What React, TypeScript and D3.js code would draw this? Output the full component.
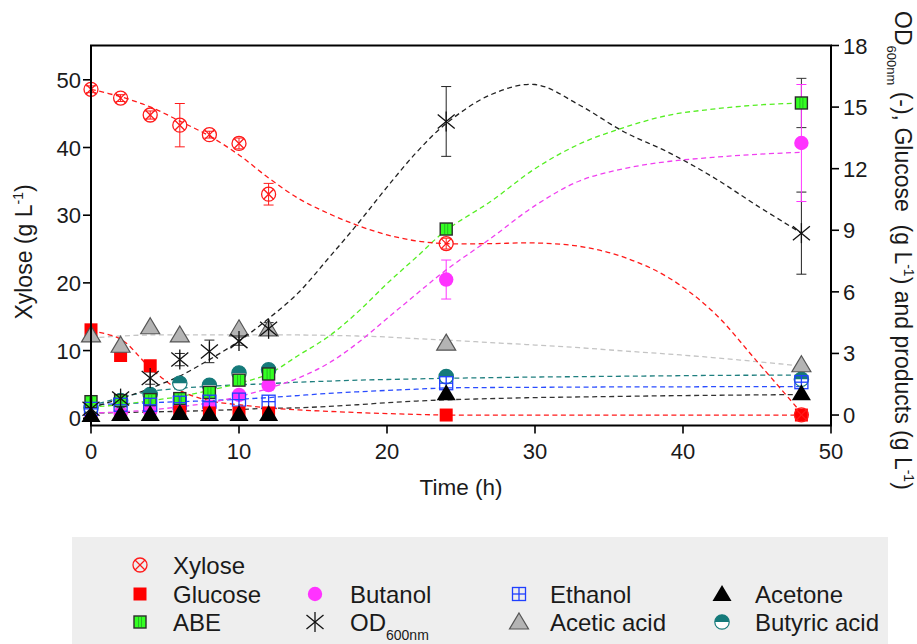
import React from 'react';
import * as d3 from 'd3';

const W = 917;
const H = 644;

// Sampling times (h)
const TIME = [0, 2, 4, 6, 8, 10, 12, 24, 48];

// Measured values (xylose on left axis, the rest on right axis)
const XYLOSE = [48.6, 47.3, 44.8, 43.3, 41.9, 40.6, 33.1, 25.8, 0.5];
const XYLOSE_ERR = [0.5, 0.5, 0.6, 3.2, 0.5, 0.8, 1.6, 0.8, 0.3];
const GLUCOSE = [4.15, 2.9, 2.4, 0.15, 0.1, 0.1, 0.1, 0.0, 0.0];
const ABE = [0.65, 0.7, 0.75, 0.8, 1.1, 1.7, 2.0, 9.06, 15.2];
const ABE_ERR = [0, 0, 0, 0, 0, 0, 0, 0.1, 1.2];
const BUTANOL = [0.05, 0.1, 0.2, 0.3, 0.4, 0.98, 1.46, 6.6, 13.25];
const BUTANOL_ERR = [0, 0, 0, 0, 0, 0, 0, 0.95, 2.85];
const OD600 = [0.3, 0.8, 1.8, 2.7, 3.1, 3.6, 4.2, 14.3, 8.86];
const OD600_ERR = [0.1, 0.2, 0.3, 0.3, 0.55, 0.2, 0.3, 1.7, 2.0];
const ACETIC = [3.9, 3.4, 4.3, 3.9, NaN, 4.2, 4.2, 3.5, 2.45];
const ACETONE = [0.0, 0.05, 0.05, 0.1, 0.05, 0.05, 0.05, 1.06, 1.06];
const ETHANOL = [0.3, 0.5, 0.5, 0.6, 0.65, 0.75, 0.65, 1.55, 1.6];
const BUTYRIC = [0.35, 0.7, 1.0, 1.55, 1.45, 2.05, 2.2, 1.87, 1.74];

// Fitted trend curves
const FIT_T = [0, 2, 4, 6, 8, 10, 12, 14, 16, 18, 20, 22, 24, 27, 30, 33, 36, 39, 42, 45, 48];
const XYLOSE_FIT = [48.6, 47.5, 46.0, 43.9, 41.7, 38.9, 35.5, 32.5, 30.3, 28.5, 27.1, 26.2, 25.8, 25.8, 25.9, 25.4, 23.8, 20.8, 15.8, 8.4, 0.8];
const GLUCOSE_FIT = [4.1, 3.7, 2.3, 1.2, 0.7, 0.5, 0.35, 0.25, 0.18, 0.12, 0.07, 0.03, 0.0, 0, 0, 0, 0, 0, 0, 0, 0];
const OD600_FIT = [0.35, 0.8, 1.3, 1.9, 2.7, 3.6, 4.7, 5.95, 7.6, 9.3, 11.1, 12.8, 14.2, 15.6, 16.1, 15.1, 13.8, 12.8, 11.6, 10.2, 8.86];
const ABE_FIT = [0.4, 0.5, 0.7, 0.9, 1.2, 1.55, 2.0, 2.9, 3.8, 5.0, 6.4, 7.7, 9.0, 10.4, 12.0, 13.2, 14.0, 14.6, 14.9, 15.1, 15.2];
const BUTANOL_FIT = [0.1, 0.15, 0.25, 0.4, 0.6, 0.9, 1.3, 1.8, 2.5, 3.5, 4.7, 5.9, 7.07, 8.6, 10.2, 11.4, 12.0, 12.35, 12.55, 12.7, 12.8];
const ACETIC_FIT = [3.75, 3.85, 3.9, 3.9, 3.9, 3.9, 3.9, 3.9, 3.88, 3.85, 3.8, 3.72, 3.65, 3.53, 3.41, 3.28, 3.12, 2.97, 2.8, 2.6, 2.39];
const BUTYRIC_FIT = [0.45, 0.85, 1.15, 1.3, 1.4, 1.47, 1.53, 1.6, 1.65, 1.7, 1.73, 1.76, 1.79, 1.82, 1.85, 1.87, 1.89, 1.91, 1.93, 1.94, 1.95];
const ETHANOL_FIT = [0.5, 0.55, 0.6, 0.65, 0.7, 0.77, 0.85, 0.95, 1.05, 1.13, 1.2, 1.26, 1.32, 1.34, 1.35, 1.36, 1.37, 1.37, 1.38, 1.38, 1.38];
const ACETONE_FIT = [0.1, 0.12, 0.15, 0.18, 0.22, 0.27, 0.33, 0.35, 0.42, 0.5, 0.6, 0.68, 0.74, 0.8, 0.85, 0.88, 0.91, 0.94, 0.96, 0.98, 1.0];

const X_TICKS = [0, 10, 20, 30, 40, 50];
const YL_TICKS = [0, 10, 20, 30, 40, 50];
const YR_TICKS = [0, 3, 6, 9, 12, 15, 18];

const FONT = "'Liberation Sans', Arial, Helvetica, sans-serif";

const x = d3.scaleLinear().domain([0, 50]).range([91, 831]);
const yL = d3.scaleLinear().domain([-1.07, 55.07]).range([425.5, 45.5]);
const yR = d3.scaleLinear().domain([-0.51, 18]).range([425.5, 45.5]);

type MType = 'xylose' | 'glucose' | 'abe' | 'butanol' | 'od' | 'acetic' | 'acetone' | 'ethanol' | 'butyric';

function Marker({ type, cx, cy }: { type: MType; cx: number; cy: number }) {
  const t = `translate(${cx},${cy})`;
  switch (type) {
    case 'xylose':
      return (
        <g transform={t} stroke="#ff1a1a" strokeWidth={1.3} fill="none">
          <circle r={7} />
          <line x1={-5} y1={-5} x2={5} y2={5} />
          <line x1={-5} y1={5} x2={5} y2={-5} />
        </g>
      );
    case 'glucose':
      return <rect transform={t} x={-6.5} y={-6.5} width={13} height={13} fill="#ff0000" />;
    case 'abe':
      return (
        <g transform={t}>
          <rect x={-6} y={-6} width={12} height={12} fill="#33ff22" stroke="#2b2b2b" strokeWidth={1.4} />
          <line x1={-1.5} y1={-5} x2={-1.5} y2={5} stroke="#22aa22" strokeWidth={0.8} />
          <line x1={1.5} y1={-5} x2={1.5} y2={5} stroke="#22aa22" strokeWidth={0.8} />
        </g>
      );
    case 'butanol':
      return <circle cx={cx} cy={cy} r={7.2} fill="#ff33ff" />;
    case 'od':
      return (
        <g transform={t} stroke="#111" strokeWidth={1.3}>
          <line x1={0} y1={-10} x2={0} y2={10} />
          <line x1={-8.5} y1={-7} x2={8.5} y2={7} />
          <line x1={-8.5} y1={7} x2={8.5} y2={-7} />
        </g>
      );
    case 'acetic':
      return <path transform={t} d="M0,-9 L9.5,7 L-9.5,7 Z" fill="#b4b4b4" stroke="#555" strokeWidth={1.2} />;
    case 'acetone':
      return <path transform={t} d="M0,-9 L9.5,7 L-9.5,7 Z" fill="#000" />;
    case 'ethanol':
      return (
        <g transform={t} stroke="#1f3fff" strokeWidth={1.3} fill="none">
          <rect x={-6.5} y={-6.5} width={13} height={13} />
          <line x1={0} y1={-6.5} x2={0} y2={6.5} />
          <line x1={-6.5} y1={0} x2={6.5} y2={0} />
        </g>
      );
    case 'butyric':
      return (
        <g transform={t}>
          <circle r={7.2} fill="#ffffff" />
          <path d="M-7.2,0 A7.2,7.2 0 0 1 7.2,0 Z" fill="#157a7a" />
          <circle r={7.2} fill="none" stroke="#157a7a" strokeWidth={1.2} />
        </g>
      );
  }
  return null;
}

const lineGen = d3
  .line<[number, number]>()
  .x((d) => x(d[0]))
  .curve(d3.curveCatmullRom.alpha(0.5));

function Fit({ vals, scale, color }: { vals: number[]; scale: d3.ScaleLinear<number, number>; color: string }) {
  const pts: [number, number][] = FIT_T.map((t, i) => [t, vals[i]]);
  const d = lineGen.y((p) => scale(p[1]))(pts) || '';
  return <path d={d} fill="none" stroke={color} strokeWidth={1.3} strokeDasharray="5,3.5" />;
}

function ErrBars({ vals, errs, scale, color }: { vals: number[]; errs: number[]; scale: d3.ScaleLinear<number, number>; color: string }) {
  return (
    <g stroke={color} strokeWidth={1}>
      {TIME.map((t, i) => {
        const e = errs[i];
        if (!e || isNaN(vals[i])) return null;
        const px = x(t);
        const y1 = scale(vals[i] + e);
        const y2 = scale(vals[i] - e);
        return (
          <g key={i}>
            <line x1={px} x2={px} y1={y1} y2={y2} />
            <line x1={px - 5} x2={px + 5} y1={y1} y2={y1} />
            <line x1={px - 5} x2={px + 5} y1={y2} y2={y2} />
          </g>
        );
      })}
    </g>
  );
}

function Points({ vals, scale, type }: { vals: number[]; scale: d3.ScaleLinear<number, number>; type: MType }) {
  return (
    <g>
      {TIME.map((t, i) =>
        isNaN(vals[i]) ? null : <Marker key={i} type={type} cx={x(t)} cy={scale(vals[i])} />
      )}
    </g>
  );
}

const LEGEND: { type: MType; label: string; col: number; row: number }[] = [
  { type: 'xylose', label: 'Xylose', col: 0, row: 0 },
  { type: 'glucose', label: 'Glucose', col: 0, row: 1 },
  { type: 'abe', label: 'ABE', col: 0, row: 2 },
  { type: 'butanol', label: 'Butanol', col: 1, row: 1 },
  { type: 'od', label: 'OD', col: 1, row: 2 },
  { type: 'ethanol', label: 'Ethanol', col: 2, row: 1 },
  { type: 'acetic', label: 'Acetic acid', col: 2, row: 2 },
  { type: 'acetone', label: 'Acetone', col: 3, row: 1 },
  { type: 'butyric', label: 'Butyric acid', col: 3, row: 2 },
];
const LEG_MARK_X = [140, 315, 519, 722];
const LEG_TEXT_X = [173, 350, 550, 755];
const LEG_ROW_Y = [565, 594, 622];

export default function App() {
  const plotL = 91, plotR = 831, plotT = 45.5, plotB = 425.5;
  return (
    <svg width={W} height={H} style={{ position: 'absolute', left: 0, top: 0, background: '#fff' }} fontFamily={FONT}>
      <rect x={0} y={0} width={W} height={H} fill="#fff" />

      {/* fitted curves */}
      <Fit vals={ACETIC_FIT} scale={yR} color="#c4c4c4" />
      <Fit vals={BUTYRIC_FIT} scale={yR} color="#1f7f7f" />
      <Fit vals={ETHANOL_FIT} scale={yR} color="#2a4cff" />
      <Fit vals={ACETONE_FIT} scale={yR} color="#333" />
      <Fit vals={GLUCOSE_FIT} scale={yR} color="#ff1a1a" />
      <Fit vals={BUTANOL_FIT} scale={yR} color="#f040f0" />
      <Fit vals={ABE_FIT} scale={yR} color="#55ee22" />
      <Fit vals={OD600_FIT} scale={yR} color="#222" />
      <Fit vals={XYLOSE_FIT} scale={yL} color="#ff1a1a" />

      {/* error bars */}
      <ErrBars vals={OD600} errs={OD600_ERR} scale={yR} color="#222" />
      <ErrBars vals={ABE} errs={ABE_ERR} scale={yR} color="#333" />
      <ErrBars vals={BUTANOL} errs={BUTANOL_ERR} scale={yR} color="#ff33ff" />
      <ErrBars vals={XYLOSE} errs={XYLOSE_ERR} scale={yL} color="#ff1a1a" />

      {/* points */}
      <Points vals={BUTANOL} scale={yR} type="butanol" />
      <Points vals={BUTYRIC} scale={yR} type="butyric" />
      <Points vals={ABE} scale={yR} type="abe" />
      <Points vals={ETHANOL} scale={yR} type="ethanol" />
      <Points vals={GLUCOSE} scale={yR} type="glucose" />
      <Points vals={ACETONE} scale={yR} type="acetone" />
      <Points vals={ACETIC} scale={yR} type="acetic" />
      <Points vals={OD600} scale={yR} type="od" />
      <Points vals={XYLOSE} scale={yL} type="xylose" />

      {/* frame */}
      <rect x={plotL} y={plotT} width={plotR - plotL} height={plotB - plotT} fill="none" stroke="#000" strokeWidth={2} />

      {/* bottom axis */}
      {X_TICKS.map((v) => (
        <g key={'x' + v}>
          <line x1={x(v)} x2={x(v)} y1={plotB} y2={plotB + 8} stroke="#000" strokeWidth={1.6} />
          <text x={x(v)} y={459} textAnchor="middle" fontSize={22} fill="#1a1a1a">{v}</text>
        </g>
      ))}
      <text x={461} y={494.5} textAnchor="middle" fontSize={22.5} fill="#1a1a1a">Time (h)</text>

      {/* left axis */}
      {YL_TICKS.map((v) => (
        <g key={'l' + v}>
          <line x1={plotL - 8} x2={plotL} y1={yL(v)} y2={yL(v)} stroke="#000" strokeWidth={1.6} />
          <text x={81} y={yL(v) + 8} textAnchor="end" fontSize={22} fill="#1a1a1a">{v}</text>
        </g>
      ))}
      <text transform="translate(32,252) rotate(-90)" textAnchor="middle" fontSize={23} fill="#1a1a1a">
        Xylose (g L<tspan fontSize={14} dy={-9}>-1</tspan><tspan dy={9}>)</tspan>
      </text>

      {/* right axis */}
      {YR_TICKS.map((v) => (
        <g key={'r' + v}>
          <line x1={plotR} x2={plotR + 8} y1={yR(v)} y2={yR(v)} stroke="#000" strokeWidth={1.6} />
          <text x={843} y={yR(v) + 8} textAnchor="start" fontSize={22} fill="#1a1a1a">{v}</text>
        </g>
      ))}
      <text transform="translate(895,11) rotate(90)" textAnchor="start" fontSize={23} fill="#1a1a1a" style={{ whiteSpace: 'pre' }}>
        OD<tspan fontSize={13} dy={8}>600nm</tspan>
        <tspan dy={-8}>{' (-), Glucose  (g L'}</tspan>
        <tspan fontSize={14} dy={-9}>-1</tspan>
        <tspan dy={9}>{') and products (g L'}</tspan>
        <tspan fontSize={14} dy={-9}>-1</tspan>
        <tspan dy={9}>)</tspan>
      </text>

      {/* legend */}
      <rect x={72} y={537} width={816} height={107} fill="#eeeeee" />
      {LEGEND.map((it) => (
        <g key={it.label}>
          <Marker type={it.type} cx={LEG_MARK_X[it.col]} cy={LEG_ROW_Y[it.row]} />
          <text x={LEG_TEXT_X[it.col]} y={LEG_ROW_Y[it.row] + 8.5} fontSize={24} fill="#1a1a1a">
            {it.label}
            {it.type === 'od' ? <tspan fontSize={14} dy={9}>600nm</tspan> : null}
          </text>
        </g>
      ))}
    </svg>
  );
}
